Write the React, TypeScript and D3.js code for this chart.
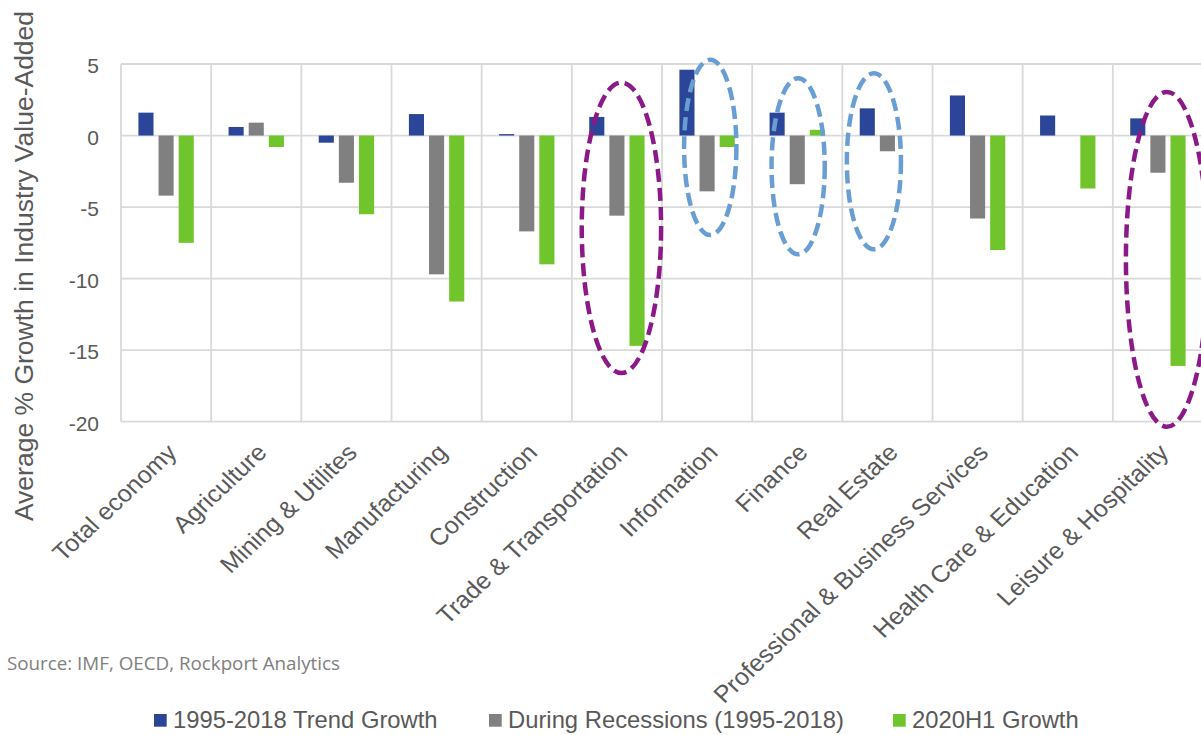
import React from "react";
import * as d3 from "d3";

// Industry value-added growth: long-run trend, recession average, and 2020H1
const categories = [
  "Total economy",
  "Agriculture",
  "Mining & Utilites",
  "Manufacturing",
  "Construction",
  "Trade & Transportation",
  "Information",
  "Finance",
  "Real Estate",
  "Professional & Business Services",
  "Health Care & Education",
  "Leisure & Hospitality",
];

const trendGrowth = [1.6, 0.6, -0.5, 1.5, 0.1, 1.3, 4.6, 1.6, 1.9, 2.8, 1.4, 1.2];
const recessionGrowth = [-4.2, 0.9, -3.3, -9.7, -6.7, -5.6, -3.9, -3.4, -1.1, -5.8, 0, -2.6];
const h1Growth = [-7.5, -0.8, -5.5, -11.6, -9.0, -14.7, -0.8, 0.4, 0, -8.0, -3.7, -16.1];

const seriesNames = ["1995-2018 Trend Growth", "During Recessions (1995-2018)", "2020H1 Growth"];
const seriesValues = [trendGrowth, recessionGrowth, h1Growth];
const seriesColors = ["#2B4699", "#808080", "#70C42C"];

const yTicks = [5, 0, -5, -10, -15, -20];

// Highlight rings: category, horizontal shift (share of band), value span, half-width (share of band)
const ringCategories = ["Trade & Transportation", "Information", "Finance", "Real Estate", "Leisure & Hospitality"];
const ringShift = [0.05, 0.035, 0.01, -0.15, 0.1];
const ringTop = [3.7, 5.3, 4.0, 4.35, 3.05];
const ringBottom = [-16.6, -6.95, -8.3, -7.95, -20.35];
const ringHalfWidth = [0.44, 0.29, 0.295, 0.3, 0.455];
const ringColors = ["#8B1A88", "#699ED3", "#699ED3", "#699ED3", "#8B1A88"];

const W = 1201;
const H = 735;
const plotLeft = 121;
const plotRight = 1203;
const plotTop = 64;
const plotBottom = 421.7;

const FONT = "'Liberation Sans', Arial, Helvetica, sans-serif";
const TEXT = "#595959";
const GRID = "#D9D9D9";

export default function App() {
  const x = d3.scaleBand<string>().domain(categories).range([plotLeft, plotRight]).padding(0);
  const bw = x.bandwidth();
  const xs = d3
    .scaleBand<number>()
    .domain([0, 1, 2])
    .range([bw * 0.193, bw * 0.807])
    .paddingInner(0.25)
    .paddingOuter(0);
  const y = d3.scaleLinear().domain([-20, 5]).range([plotBottom, plotTop]);

  const vLines = d3.range(categories.length + 1).map((i) => plotLeft + i * bw);

  // legend layout
  const legendX = [154, 489, 893];

  return (
    <svg
      width={W}
      height={H}
      viewBox={`0 0 ${W} ${H}`}
      style={{ position: "absolute", left: 0, top: 0, background: "#fff" }}
    >
      <rect x={0} y={0} width={W} height={H} fill="#fff" />

      {/* grid */}
      <g stroke={GRID} strokeWidth={1.8}>
        {yTicks.map((t) => (
          <line key={`h${t}`} x1={plotLeft} x2={plotRight} y1={y(t)} y2={y(t)} />
        ))}
        {vLines.map((vx, i) => (
          <line key={`v${i}`} x1={vx} x2={vx} y1={plotTop} y2={plotBottom} />
        ))}
      </g>

      {/* y tick labels */}
      <g fontFamily={FONT} fontSize={21} fill={TEXT} textAnchor="end">
        {yTicks.map((t) => (
          <text key={`yt${t}`} x={99} y={y(t) + 1.5} dominantBaseline="central">
            {t}
          </text>
        ))}
      </g>

      {/* y axis title */}
      <text
        transform={`translate(32.5, 266) rotate(-90)`}
        textAnchor="middle"
        fontFamily={FONT}
        fontSize={26.5}
        fill={TEXT}
      >
        Average % Growth in Industry Value-Added
      </text>

      {/* bars */}
      {seriesValues.map((vals, s) => (
        <g key={`s${s}`} fill={seriesColors[s]}>
          {vals.map((v, i) =>
            v === 0 ? null : (
              <rect
                key={`b${s}-${i}`}
                x={(x(categories[i]) as number) + (xs(s) as number)}
                y={Math.min(y(v), y(0))}
                width={xs.bandwidth()}
                height={Math.abs(y(v) - y(0))}
              />
            )
          )}
        </g>
      ))}

      {/* highlight rings */}
      {ringCategories.map((c, i) => {
        const cx = (x(c) as number) + bw * (0.5 + ringShift[i]);
        const yt = y(ringTop[i]);
        const yb = y(ringBottom[i]);
        return (
          <ellipse
            key={`r${i}`}
            cx={cx}
            cy={(yt + yb) / 2}
            rx={bw * ringHalfWidth[i]}
            ry={(yb - yt) / 2}
            fill="none"
            stroke={ringColors[i]}
            strokeWidth={4.5}
            strokeDasharray="13 6"
          />
        );
      })}

      {/* category labels */}
      <g fontFamily={FONT} fontSize={23.8} fill={TEXT} textAnchor="end">
        {categories.map((c) => {
          const cx = (x(c) as number) + bw / 2 + 12;
          return (
            <text key={`c${c}`} transform={`translate(${cx}, 454) scale(1.06, 1) rotate(-45)`}>
              {c}
            </text>
          );
        })}
      </g>

      {/* source note */}
      <text
        x={7}
        y={670}
        fontFamily="'Open Sans', 'Noto Sans', sans-serif"
        fontSize={19}
        fill="#808080"
        textLength={333}
        lengthAdjust="spacingAndGlyphs"
      >
        Source: IMF, OECD, Rockport Analytics
      </text>

      {/* legend */}
      <g fontFamily={FONT} fontSize={23.8} fill={TEXT}>
        {seriesNames.map((n, i) => (
          <g key={`l${i}`}>
            <rect x={legendX[i]} y={714} width={12.7} height={12.7} fill={seriesColors[i]} />
            <text x={legendX[i] + 19} y={728.3}>
              {n}
            </text>
          </g>
        ))}
      </g>
    </svg>
  );
}
